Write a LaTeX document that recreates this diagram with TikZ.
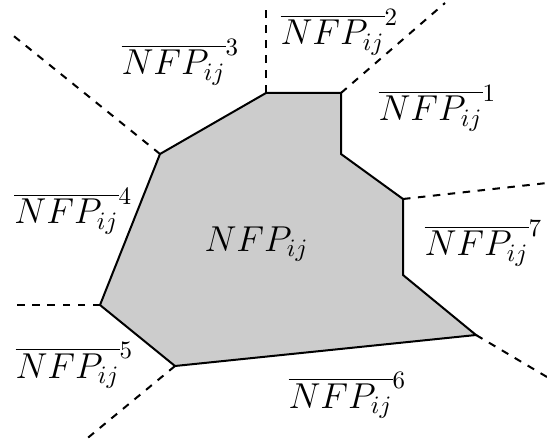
\documentclass[tikz,border=0pt]{standalone}
\begin{document}
\begin{tikzpicture}[x=0.4pt,y=-0.4pt,
  region/.style={fill=black!20,draw=black,line width=0.8pt,line join=miter},
  ray/.style={dashed,line width=0.8pt},
  lbl/.style={anchor=base west,inner sep=0pt,font=\fontsize{13.8}{16}\selectfont}]
\useasboundingbox (0,0) rectangle (547,446);
% vertices of the polygon
\coordinate (a) at (266,93);
\coordinate (b) at (341,93);
\coordinate (c) at (341,154);
\coordinate (d) at (403,199);
\coordinate (e) at (403,275);
\coordinate (f) at (476,335);
\coordinate (g) at (175,366);
\coordinate (h) at (100,305);
\coordinate (i) at (160,154);
% far ends of the separating rays
\coordinate (ra) at (266,3);
\coordinate (rb) at (445,3);
\coordinate (rd) at (547,183);
\coordinate (rf) at (547,377);
\coordinate (rg) at (84,441);
\coordinate (rh) at (12,305);
\coordinate (ri) at (10,33);
\draw[region] (a) -- (b) -- (c) -- (d) -- (e) -- (f) -- (g) -- (h) -- (i) -- cycle;
\draw[ray] (a) -- (ra);
\draw[ray] (b) -- (rb);
\draw[ray] (d) -- (rd);
\draw[ray] (f) -- (rf);
\draw[ray] (g) -- (rg);
\draw[ray] (h) -- (rh);
\draw[ray] (i) -- (ri);
% labels
\node[lbl] (n0) at (204,251) {$NFP_{ij}$};
\node[lbl] (n1) at (378,121) {$\overline{NFP_{ij}}^{1}$};
\node[lbl] (n2) at (280,45) {$\overline{NFP_{ij}}^{2}$};
\node[lbl] (n3) at (121,75) {$\overline{NFP_{ij}}^{3}$};
\node[lbl] (n4) at (14,224) {$\overline{NFP_{ij}}^{4}$};
\node[lbl] (n5) at (15,378) {$\overline{NFP_{ij}}^{5}$};
\node[lbl] (n6) at (288,408) {$\overline{NFP_{ij}}^{6}$};
\node[lbl] (n7) at (424,256) {$\overline{NFP_{ij}}^{7}$};
\end{tikzpicture}
\end{document}
